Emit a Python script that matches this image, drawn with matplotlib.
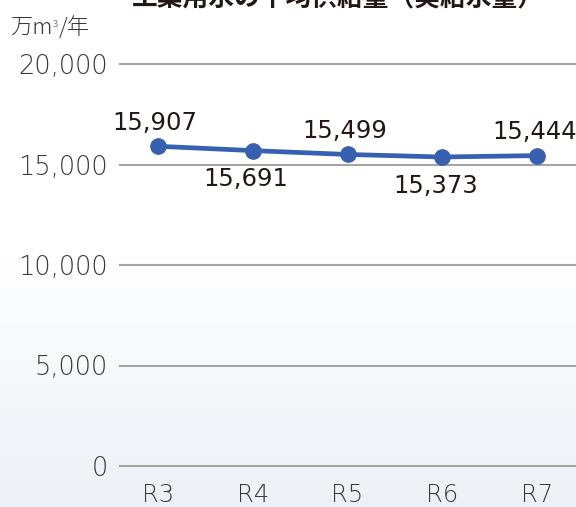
import numpy as np
import matplotlib
matplotlib.use("Agg")
import matplotlib.pyplot as plt
from matplotlib.colors import LinearSegmentedColormap

plt.rcParams['font.family'] = ['Noto Sans CJK JP', 'DejaVu Sans']

# data
years = ["R3", "R4", "R5", "R6", "R7"]
supply = [15907, 15691, 15499, 15373, 15444]
label_above = [True, False, True, False, True]
yticks = [0, 5000, 10000, 15000, 20000]

title = "工業用水の平均供給量（実給水量）"

num_font = ['DejaVu Sans']

fig = plt.figure(figsize=(5.76, 5.07), dpi=100)

# soft background gradient
bg = fig.add_axes([0, 0, 1, 1], zorder=-10)
grad = np.linspace(0, 1, 256).reshape(-1, 1)
cmap = LinearSegmentedColormap.from_list("bg", ["#ffffff", "#ffffff", "#edf1f7"])
bg.imshow(grad, aspect="auto", cmap=cmap, extent=[0, 1, 0, 1], origin="upper")
bg.axis("off")

ax = fig.add_axes([120 / 576, 41 / 507, 456 / 576, 402 / 507])
ax.patch.set_alpha(0)
x = np.arange(len(years))
ax.plot(x, supply, color="#3761b0", lw=3.4, marker="o", ms=11,
        solid_capstyle="round", zorder=5, clip_on=False)

for xi, v, up in zip(x, supply, label_above):
    if up:
        ax.annotate(f"{v:,}", (xi, v), xytext=(-2, 12), textcoords="offset points",
                    ha="center", va="baseline", fontsize=17.5, color="#231815",
                    family=num_font)
    else:
        ax.annotate(f"{v:,}", (xi, v), xytext=(-5, -12), textcoords="offset points",
                    ha="center", va="top", fontsize=17.5, color="#231815",
                    family=num_font)

ax.set_xlim(-0.4, 4.41)
ax.set_ylim(0, 20000)
ax.set_yticks(yticks)
ax.set_yticklabels([f"{t:,}" for t in yticks], fontsize=18.5,
                   color="#3a3a3a", fontweight="light", family=num_font)
ax.set_xticks(x)
ax.set_xticklabels(years, fontsize=17.5, color="#3a3a3a", fontweight="light",
                   family=num_font)
ax.tick_params(axis="y", length=0, pad=9)
ax.tick_params(axis="x", length=0, pad=12)
for s in ax.spines.values():
    s.set_visible(False)
for t in yticks:
    ax.axhline(t, color="#a5a5a5", lw=1.5, zorder=1, clip_on=False)

# unit label with small superscript
u1 = fig.text(10 / 576, 1 - 28 / 507, "万m", fontsize=16, color="#3a3a3a",
              va="center", ha="left", fontweight="light")
u2 = fig.text(0, 0, "3", fontsize=7, color="#3a3a3a", ha="left", va="top",
              fontweight="light")
u2.set_transform(fig.transFigure)
fig.canvas.draw()
r = fig.canvas.get_renderer()
bb = u1.get_window_extent(r).transformed(fig.transFigure.inverted())
u2.set_position((bb.x1 + 0.5 / 576, bb.y1 - 3 / 507))
bb2 = u2.get_window_extent(r).transformed(fig.transFigure.inverted())
fig.text(bb2.x1 + 0.5 / 576, 1 - 28 / 507, "/年", fontsize=16, color="#3a3a3a",
         va="center", ha="left", fontweight="light")

fig.text(338 / 576, 1 + 2 / 507, title, fontsize=18.5, fontweight="bold",
         color="#231815", ha="center", va="center")

fig.savefig("out.png", dpi=100)
